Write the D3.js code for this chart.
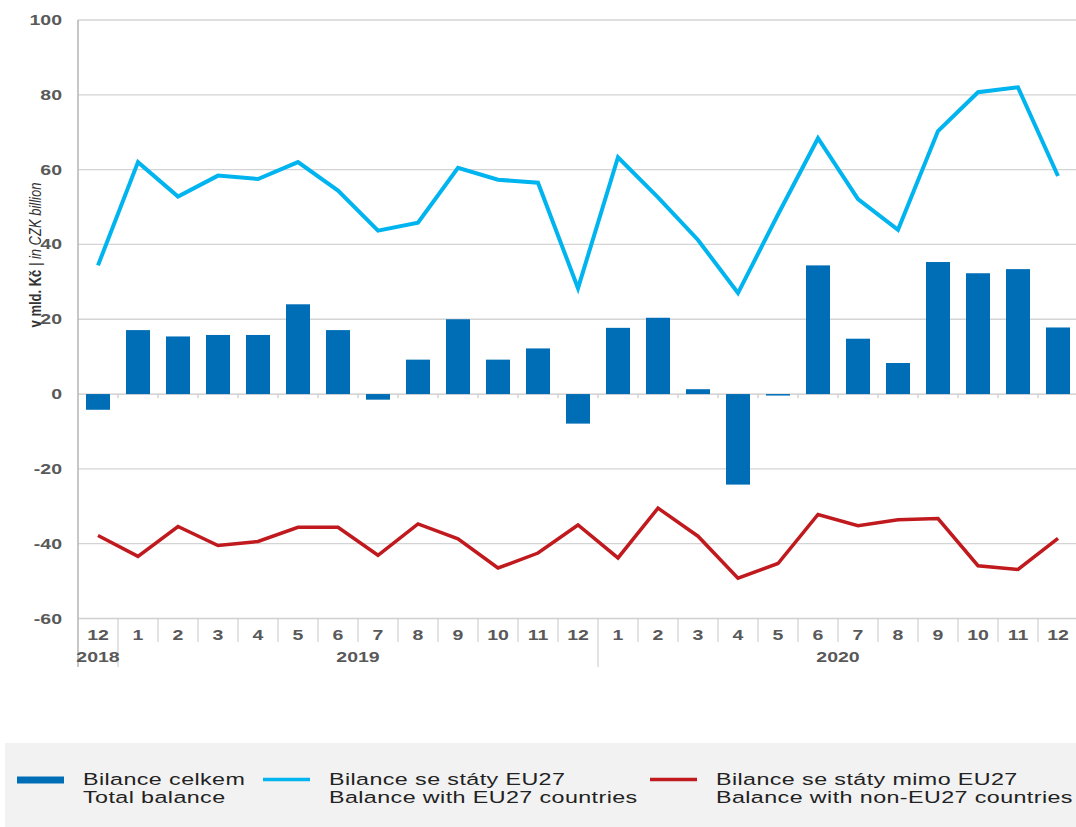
<!DOCTYPE html>
<html><head><meta charset="utf-8">
<script src="https://cdn.jsdelivr.net/npm/d3@7"></script>
<style>body{margin:0;background:#fff}svg{display:block}</style>
</head><body>
<svg id="c" width="1076" height="827"></svg>
<script>
const months = ["12","1","2","3","4","5","6","7","8","9","10","11","12","1","2","3","4","5","6","7","8","9","10","11","12"];
const years = [{label:"2018", from:0, to:0},{label:"2019", from:1, to:12},{label:"2020", from:13, to:24}];
const totalBalance = [-4.2,17.1,15.4,15.8,15.8,24.0,17.1,-1.5,9.2,20.0,9.2,12.2,-7.9,17.7,20.4,1.3,-24.2,-0.4,34.4,14.8,8.3,35.3,32.3,33.4,17.8];
const euBalance = [34.4,62.0,52.8,58.4,57.5,62.0,54.4,43.7,45.8,60.5,57.3,56.5,28.3,63.3,52.6,41.2,27.0,48.0,68.4,52.1,43.9,70.3,80.7,82.0,58.3];
const nonEuBalance = [-37.8,-43.4,-35.4,-40.5,-39.4,-35.6,-35.6,-43.1,-34.7,-38.7,-46.5,-42.5,-35.0,-43.8,-30.5,-38.0,-49.2,-45.3,-32.2,-35.2,-33.6,-33.3,-45.9,-46.9,-38.6];
const yTicks = [100,80,60,40,20,0,-20,-40,-60];
const legendCz = ["Bilance celkem","Bilance se státy EU27","Bilance se státy mimo EU27"];
const legendEn = ["Total balance","Balance with EU27 countries","Balance with non-EU27 countries"];

const svg = d3.select("#c");
const x0 = 78, x1 = 1078, yTop = 20, yBot = 618.5;
const SX = 1.3; // horizontal stretch of the original raster
const idx = d3.range(months.length);
const x = d3.scaleBand().domain(idx).range([x0, x1]).paddingInner(0.4).paddingOuter(0.2);
const xb = d3.scaleBand().domain(idx).range([x0, x1]);
const y = d3.scaleLinear().domain([-60,100]).range([yBot, yTop]);
const cx = i => xb(i) + xb.bandwidth()/2;

// gridlines
svg.append("g").selectAll("line").data(yTicks.filter(t=>t!==-60)).join("line")
  .attr("x1", x0).attr("x2", 1076).attr("y1", d=>y(d)).attr("y2", d=>y(d))
  .attr("stroke", d=> d===0 ? "#c8c8c8" : "#d4d4d4").attr("stroke-width", 1.3);

const font = "'Liberation Sans', Arial, sans-serif";
// y labels
svg.append("g").selectAll("text").data(yTicks).join("text")
  .attr("transform", d=>`translate(62,${y(d)+5}) scale(${SX},1)`).attr("text-anchor","end")
  .attr("font-family", font).attr("font-weight","bold").attr("font-size",15).attr("fill","#595959")
  .text(d=>d);

// y title
const yt = svg.append("text").attr("transform",`translate(41,255) rotate(-90) scale(1,${SX})`)
  .attr("text-anchor","middle").attr("font-family", font).attr("font-size",13).attr("fill","#333");
yt.append("tspan").attr("font-weight","bold").text("v mld. Kč");
yt.append("tspan").attr("font-style","italic").text(" | in CZK billion");

// bars
svg.append("g").selectAll("rect").data(totalBalance).join("rect")
  .attr("x", (d,i)=>x(i)).attr("width", x.bandwidth())
  .attr("y", d=>y(Math.max(0,d))).attr("height", d=>Math.abs(y(d)-y(0)))
  .attr("fill","#006eb6");

// zero-line ticks
svg.append("g").selectAll("line").data(idx.slice(1)).join("line")
  .attr("x1", i=>xb(i)).attr("x2", i=>xb(i)).attr("y1", y(0)).attr("y2", y(0)+4)
  .attr("stroke","#c8c8c8").attr("stroke-width",1.2);

// bottom category separators
svg.append("g").selectAll("line").data(idx.slice(1)).join("line")
  .attr("x1", i=>xb(i)).attr("x2", i=>xb(i)).attr("y1", yBot).attr("y2", 642)
  .attr("stroke","#d0d0d0").attr("stroke-width",1.2);
// year separators
svg.append("g").selectAll("line").data(years.slice(1)).join("line")
  .attr("x1", d=>xb(d.from)).attr("x2", d=>xb(d.from)).attr("y1", 642).attr("y2", 667)
  .attr("stroke","#d0d0d0").attr("stroke-width",1.2);
// bottom axis line
svg.append("line").attr("x1",x0).attr("x2",1076).attr("y1",yBot).attr("y2",yBot)
  .attr("stroke","#d0d0d0").attr("stroke-width",1.3);

// y axis line
svg.append("line").attr("x1",x0).attr("x2",x0).attr("y1",yTop).attr("y2",667)
  .attr("stroke","#b4b4b4").attr("stroke-width",1.5);

// month labels
svg.append("g").selectAll("text").data(months).join("text")
  .attr("transform",(d,i)=>`translate(${cx(i)},640) scale(${SX},1)`).attr("text-anchor","middle")
  .attr("font-family",font).attr("font-weight","bold").attr("font-size",15).attr("fill","#595959")
  .text(d=>d);
// year labels
svg.append("g").selectAll("text").data(years).join("text")
  .attr("transform", d=>`translate(${d.from===d.to ? cx(d.from) : (xb(d.from)+xb(d.to)+xb.bandwidth())/2},662) scale(${SX},1)`)
  .attr("text-anchor","middle")
  .attr("font-family",font).attr("font-weight","bold").attr("font-size",15).attr("fill","#595959")
  .text(d=>d.label);

// lines
const line = d3.line().x((d,i)=>cx(i)).y(d=>y(d));
svg.append("path").datum(euBalance).attr("d", line).attr("fill","none")
  .attr("stroke","#00b4ef").attr("stroke-width",4).attr("stroke-linejoin","miter");
svg.append("path").datum(nonEuBalance).attr("d", line).attr("fill","none")
  .attr("stroke","#c0191e").attr("stroke-width",3.5).attr("stroke-linejoin","miter");

// legend
svg.append("rect").attr("x",5).attr("y",743).attr("width",1071).attr("height",84).attr("fill","#f2f2f2");
const lg = [
  {sx:17, tx:83, type:"bar", color:"#006eb6"},
  {sx:263, tx:329, type:"line", color:"#00b4ef"},
  {sx:650, tx:716, type:"line", color:"#c0191e"}
];
lg.forEach((l,i)=>{
  if(l.type==="bar") svg.append("rect").attr("x",l.sx).attr("y",776.5).attr("width",47).attr("height",7).attr("fill",l.color);
  else svg.append("line").attr("x1",l.sx).attr("x2",l.sx+47).attr("y1",779.5).attr("y2",779.5).attr("stroke",l.color).attr("stroke-width",3.5);
  const t = svg.append("text").attr("transform",`translate(${l.tx},0) scale(1.37,1)`)
    .attr("font-family",font).attr("font-size",17).attr("fill","#222").attr("letter-spacing",0.3);
  t.append("tspan").attr("x",0).attr("y",785).text(legendCz[i]);
  t.append("tspan").attr("x",0).attr("y",803.5).text(legendEn[i]);
});
</script>
</body></html>
